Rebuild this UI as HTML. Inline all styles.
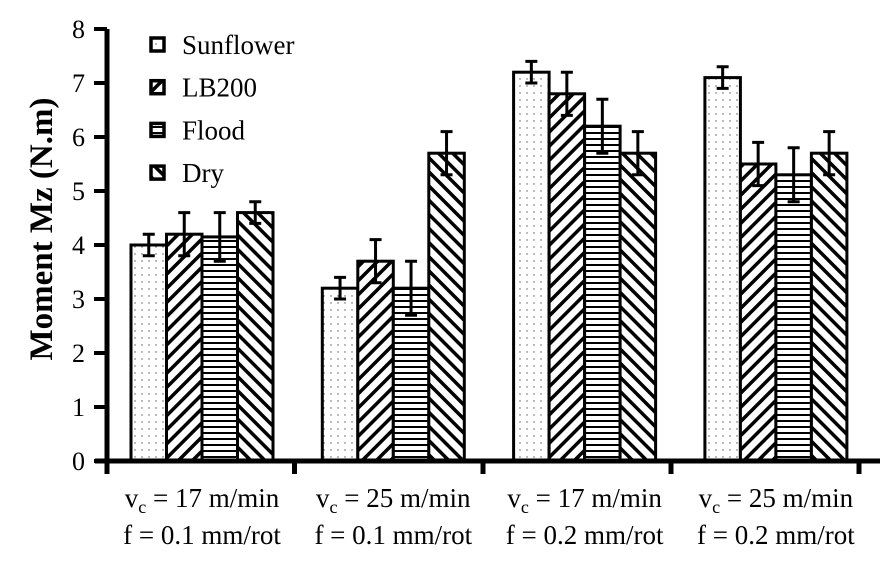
<!DOCTYPE html>
<html><head><meta charset="utf-8"><style>
html,body{margin:0;padding:0;background:#fff;}
svg{display:block;font-family:"Liberation Serif",serif;}
</style></head><body>
<svg id="chart" width="892" height="565" viewBox="0 0 892 565">
<defs>
<pattern id="p-dots" width="7" height="7" patternUnits="userSpaceOnUse"><rect width="7" height="7" fill="#fff"/><circle cx="2" cy="2" r="0.7" fill="#555"/></pattern>
<pattern id="p-fwd" width="10" height="10" patternUnits="userSpaceOnUse" patternTransform="rotate(45)"><rect width="10" height="10" fill="#fff"/><rect x="0" y="0" width="3.5" height="10" fill="#000"/></pattern>
<pattern id="p-hor" width="6" height="6" patternUnits="userSpaceOnUse"><rect width="6" height="6" fill="#fff"/><rect x="0" y="0" width="6" height="2" fill="#000"/></pattern>
<pattern id="p-back" width="10" height="10" patternUnits="userSpaceOnUse" patternTransform="rotate(-45)"><rect width="10" height="10" fill="#fff"/><rect x="0" y="0" width="3.5" height="10" fill="#000"/></pattern>
</defs>
<g id="bars"></g>
<g id="axes"></g>
<text transform="translate(52,229) rotate(-90)" text-anchor="middle" font-size="33" font-weight="bold">Moment Mz (N.m)</text>
<g id="legend"></g>
<g id="xlabels"></g>
</svg>
<script>
const categories = [["17","0.1"],["25","0.1"],["17","0.2"],["25","0.2"]];
const seriesNames = ["Sunflower","LB200","Flood","Dry"];
const sunflower = [4.0,3.2,7.2,7.1];
const lb200 = [4.2,3.7,6.8,5.5];
const flood = [4.15,3.2,6.2,5.3];
const dry = [4.6,5.7,5.7,5.7];
const sunflowerErr = [0.2,0.2,0.2,0.2];
const lb200Err = [0.4,0.4,0.4,0.4];
const floodErr = [0.45,0.5,0.5,0.5];
const dryErr = [0.2,0.4,0.4,0.4];
const yTicks = [0,1,2,3,4,5,6,7,8];

const NS="http://www.w3.org/2000/svg";
const x0=107, y0=461, unit=54;
const groupStart=131, groupStep=191.3, barW=35.5;
const yS=v=>y0-v*unit;
const gX=(g,s)=>groupStart+g*groupStep+s*barW;
function mk(t,a,p){const e=document.createElementNS(NS,t);for(const k in a)e.setAttribute(k,a[k]);p.appendChild(e);return e;}
const fills=["url(#p-dots)","url(#p-fwd)","url(#p-hor)","url(#p-back)"];
const vals=[sunflower,lb200,flood,dry], errs=[sunflowerErr,lb200Err,floodErr,dryErr];
const bars=document.getElementById('bars');
vals.forEach((arr,s)=>arr.forEach((v,g)=>{
  const r=mk('rect',{x:gX(g,s),y:yS(v),width:barW,height:y0-yS(v),fill:fills[s],stroke:'#000','stroke-width':3},bars);
  
  
  const cx=gX(g,s)+barW/2, e=errs[s][g];
  const eb=mk('path',{d:`M${cx},${yS(v+e)}V${yS(v-e)}M${cx-6},${yS(v+e)}H${cx+6}M${cx-6},${yS(v-e)}H${cx+6}`,stroke:'#000','stroke-width':3,fill:'none'},bars);
  
  
}));
const ax=document.getElementById('axes');
const ya=mk('line',{x1:x0,y1:y0+2,x2:x0,y2:yS(8),stroke:'#000','stroke-width':5},ax);


const xa=mk('line',{x1:x0-12,y1:y0,x2:880,y2:y0,stroke:'#000','stroke-width':5},ax);


yTicks.forEach(t=>{
  mk('line',{x1:x0-13,y1:yS(t),x2:x0,y2:yS(t),stroke:'#000','stroke-width':4},ax);
  const tx=mk('text',{x:85,y:yS(t)+9,'text-anchor':'end','font-size':26},ax);
  tx.textContent=t;
  
  
});
[107,294.5,483,671,859].forEach(x=>mk('line',{x1:x,y1:y0,x2:x,y2:y0+13,stroke:'#000','stroke-width':5},ax));
const xl=document.getElementById('xlabels');
categories.forEach((c,g)=>{
  const cx=gX(g,2);
  const t1=mk('text',{x:cx,y:507,'text-anchor':'middle','font-size':27},xl);
  t1.innerHTML=`v<tspan font-size="18" dy="6">c</tspan><tspan dy="-6"> = ${c[0]} m/min</tspan>`;
  
  
  const t2=mk('text',{x:cx,y:544,'text-anchor':'middle','font-size':27},xl);
  t2.textContent=`f = ${c[1]} mm/rot`;
  
  
});
const lg=document.getElementById('legend');
seriesNames.forEach((n,i)=>{
  const y=45+i*42.7;
  const b=mk('rect',{x:151,y:y-7,width:13,height:13,fill:fills[i],stroke:'#000','stroke-width':3.5},lg);
  
  
  const t=mk('text',{x:182,y:y+9,'font-size':27},lg);
  t.textContent=n;
  
  
});
</script>
</body></html>
